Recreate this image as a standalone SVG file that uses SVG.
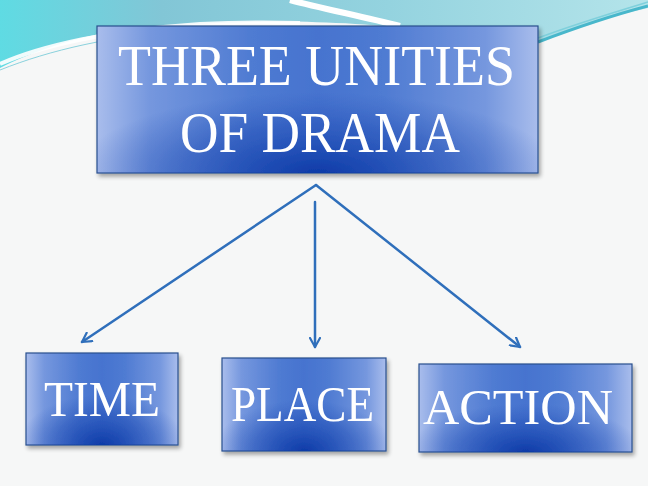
<svg xmlns="http://www.w3.org/2000/svg" width="648" height="486" viewBox="0 0 648 486">
  <defs>
    <linearGradient id="sky" x1="0" y1="0" x2="1" y2="0">
      <stop offset="0" stop-color="#5fdbe3"/>
      <stop offset="0.25" stop-color="#82c6d6"/>
      <stop offset="0.6" stop-color="#94d3df"/>
      <stop offset="1" stop-color="#b4e4ea"/>
    </linearGradient>
    <linearGradient id="boxbase" x1="0" y1="0" x2="1" y2="0">
      <stop offset="0" stop-color="#a9bdec"/>
      <stop offset="0.12" stop-color="#7597de"/>
      <stop offset="0.35" stop-color="#4f7bd2"/>
      <stop offset="0.5" stop-color="#4673cf"/>
      <stop offset="0.65" stop-color="#4f7bd2"/>
      <stop offset="0.88" stop-color="#7597de"/>
      <stop offset="1" stop-color="#a9bdec"/>
    </linearGradient>
    <radialGradient id="boxdark" cx="0.5" cy="1" r="0.55" fx="0.5" fy="1">
      <stop offset="0" stop-color="#0b38a6" stop-opacity="0.95"/>
      <stop offset="0.6" stop-color="#1a48b2" stop-opacity="0.45"/>
      <stop offset="1" stop-color="#2a55ba" stop-opacity="0"/>
    </radialGradient>
    <marker id="arrow" viewBox="0 0 12 12" refX="10" refY="6" markerWidth="12" markerHeight="12" markerUnits="userSpaceOnUse" orient="auto">
      <path d="M1,1 L10,6 L1,11" fill="none" stroke="#2f6fbb" stroke-width="2.2" stroke-linecap="round" stroke-linejoin="round"/>
    </marker>
    <filter id="shadow" x="-5%" y="-5%" width="115%" height="120%">
      <feGaussianBlur in="SourceAlpha" stdDeviation="2"/>
      <feOffset dx="2" dy="3" result="b"/>
      <feComponentTransfer><feFuncA type="linear" slope="0.35"/></feComponentTransfer>
      <feMerge><feMergeNode/><feMergeNode in="SourceGraphic"/></feMerge>
    </filter>
  </defs>
  <style>
    .box { fill: url(#boxbase); stroke: #2a4f8e; stroke-width: 1.2; }
    .dark { fill: url(#boxdark); stroke: none; }
    .label { font-family: "Liberation Serif", "Times New Roman", serif; fill: #ffffff; text-anchor: start; }
    .conn { fill: none; stroke: #2f6fbb; stroke-width: 2.5; stroke-linecap: round; }
  </style>

  <!-- background -->
  <rect x="0" y="0" width="648" height="486" fill="#f6f7f7"/>
  <path d="M0,0 L648,0 L648,8 C610,16 570,28 538,42 L420,30 C380,24 300,20 250,22 C170,24 110,28 60,44 C35,52 15,60 0,68 Z" fill="url(#sky)"/>
  <path d="M0,64 C40,46 110,30 200,24 C240,22 270,22 300,23" fill="none" stroke="#ffffff" stroke-width="4" opacity="0.9"/>
  <path d="M0,70 C50,50 110,36 200,28" fill="none" stroke="#6fc8d6" stroke-width="1" opacity="0.8"/>
  <path d="M290,0 C320,8 360,16 400,26" fill="none" stroke="#ffffff" stroke-width="6"/>
  <path d="M538,42 C575,28 610,16 648,6" fill="none" stroke="#48b7cb" stroke-width="3"/>
  <path d="M538,38 C575,24 615,12 648,2" fill="none" stroke="#7fd0dc" stroke-width="1.5"/>

  <!-- connectors -->
  <g id="connectors">
    <path class="conn" d="M316,185 L82,342" marker-end="url(#arrow)"/>
    <path class="conn" d="M315,202 L315,347" marker-end="url(#arrow)"/>
    <path class="conn" d="M316,185 L520,347" marker-end="url(#arrow)"/>
  </g>

  <g id="node-main" filter="url(#shadow)">
    <rect class="box" x="97" y="26" width="441" height="147"/>
    <rect class="dark" x="97" y="26" width="441" height="147"/>
    <text class="label" x="118" y="85" font-size="58" textLength="397" lengthAdjust="spacingAndGlyphs">THREE UNITIES</text>
    <text class="label" x="180" y="152" font-size="58" textLength="280" lengthAdjust="spacingAndGlyphs">OF DRAMA</text>
  </g>

  <g id="node-time" filter="url(#shadow)">
    <rect class="box" x="26" y="353" width="152" height="92"/>
    <rect class="dark" x="26" y="353" width="152" height="92"/>
    <text class="label" x="44" y="416" font-size="50" textLength="116" lengthAdjust="spacingAndGlyphs">TIME</text>
  </g>

  <g id="node-place" filter="url(#shadow)">
    <rect class="box" x="222" y="358" width="164" height="93"/>
    <rect class="dark" x="222" y="358" width="164" height="93"/>
    <text class="label" x="231" y="421" font-size="50" textLength="143" lengthAdjust="spacingAndGlyphs">PLACE</text>
  </g>

  <g id="node-action" filter="url(#shadow)">
    <rect class="box" x="419" y="364" width="213" height="88"/>
    <rect class="dark" x="419" y="364" width="213" height="88"/>
    <text class="label" x="423" y="424" font-size="50" textLength="190" lengthAdjust="spacingAndGlyphs">ACTION</text>
  </g>
</svg>
